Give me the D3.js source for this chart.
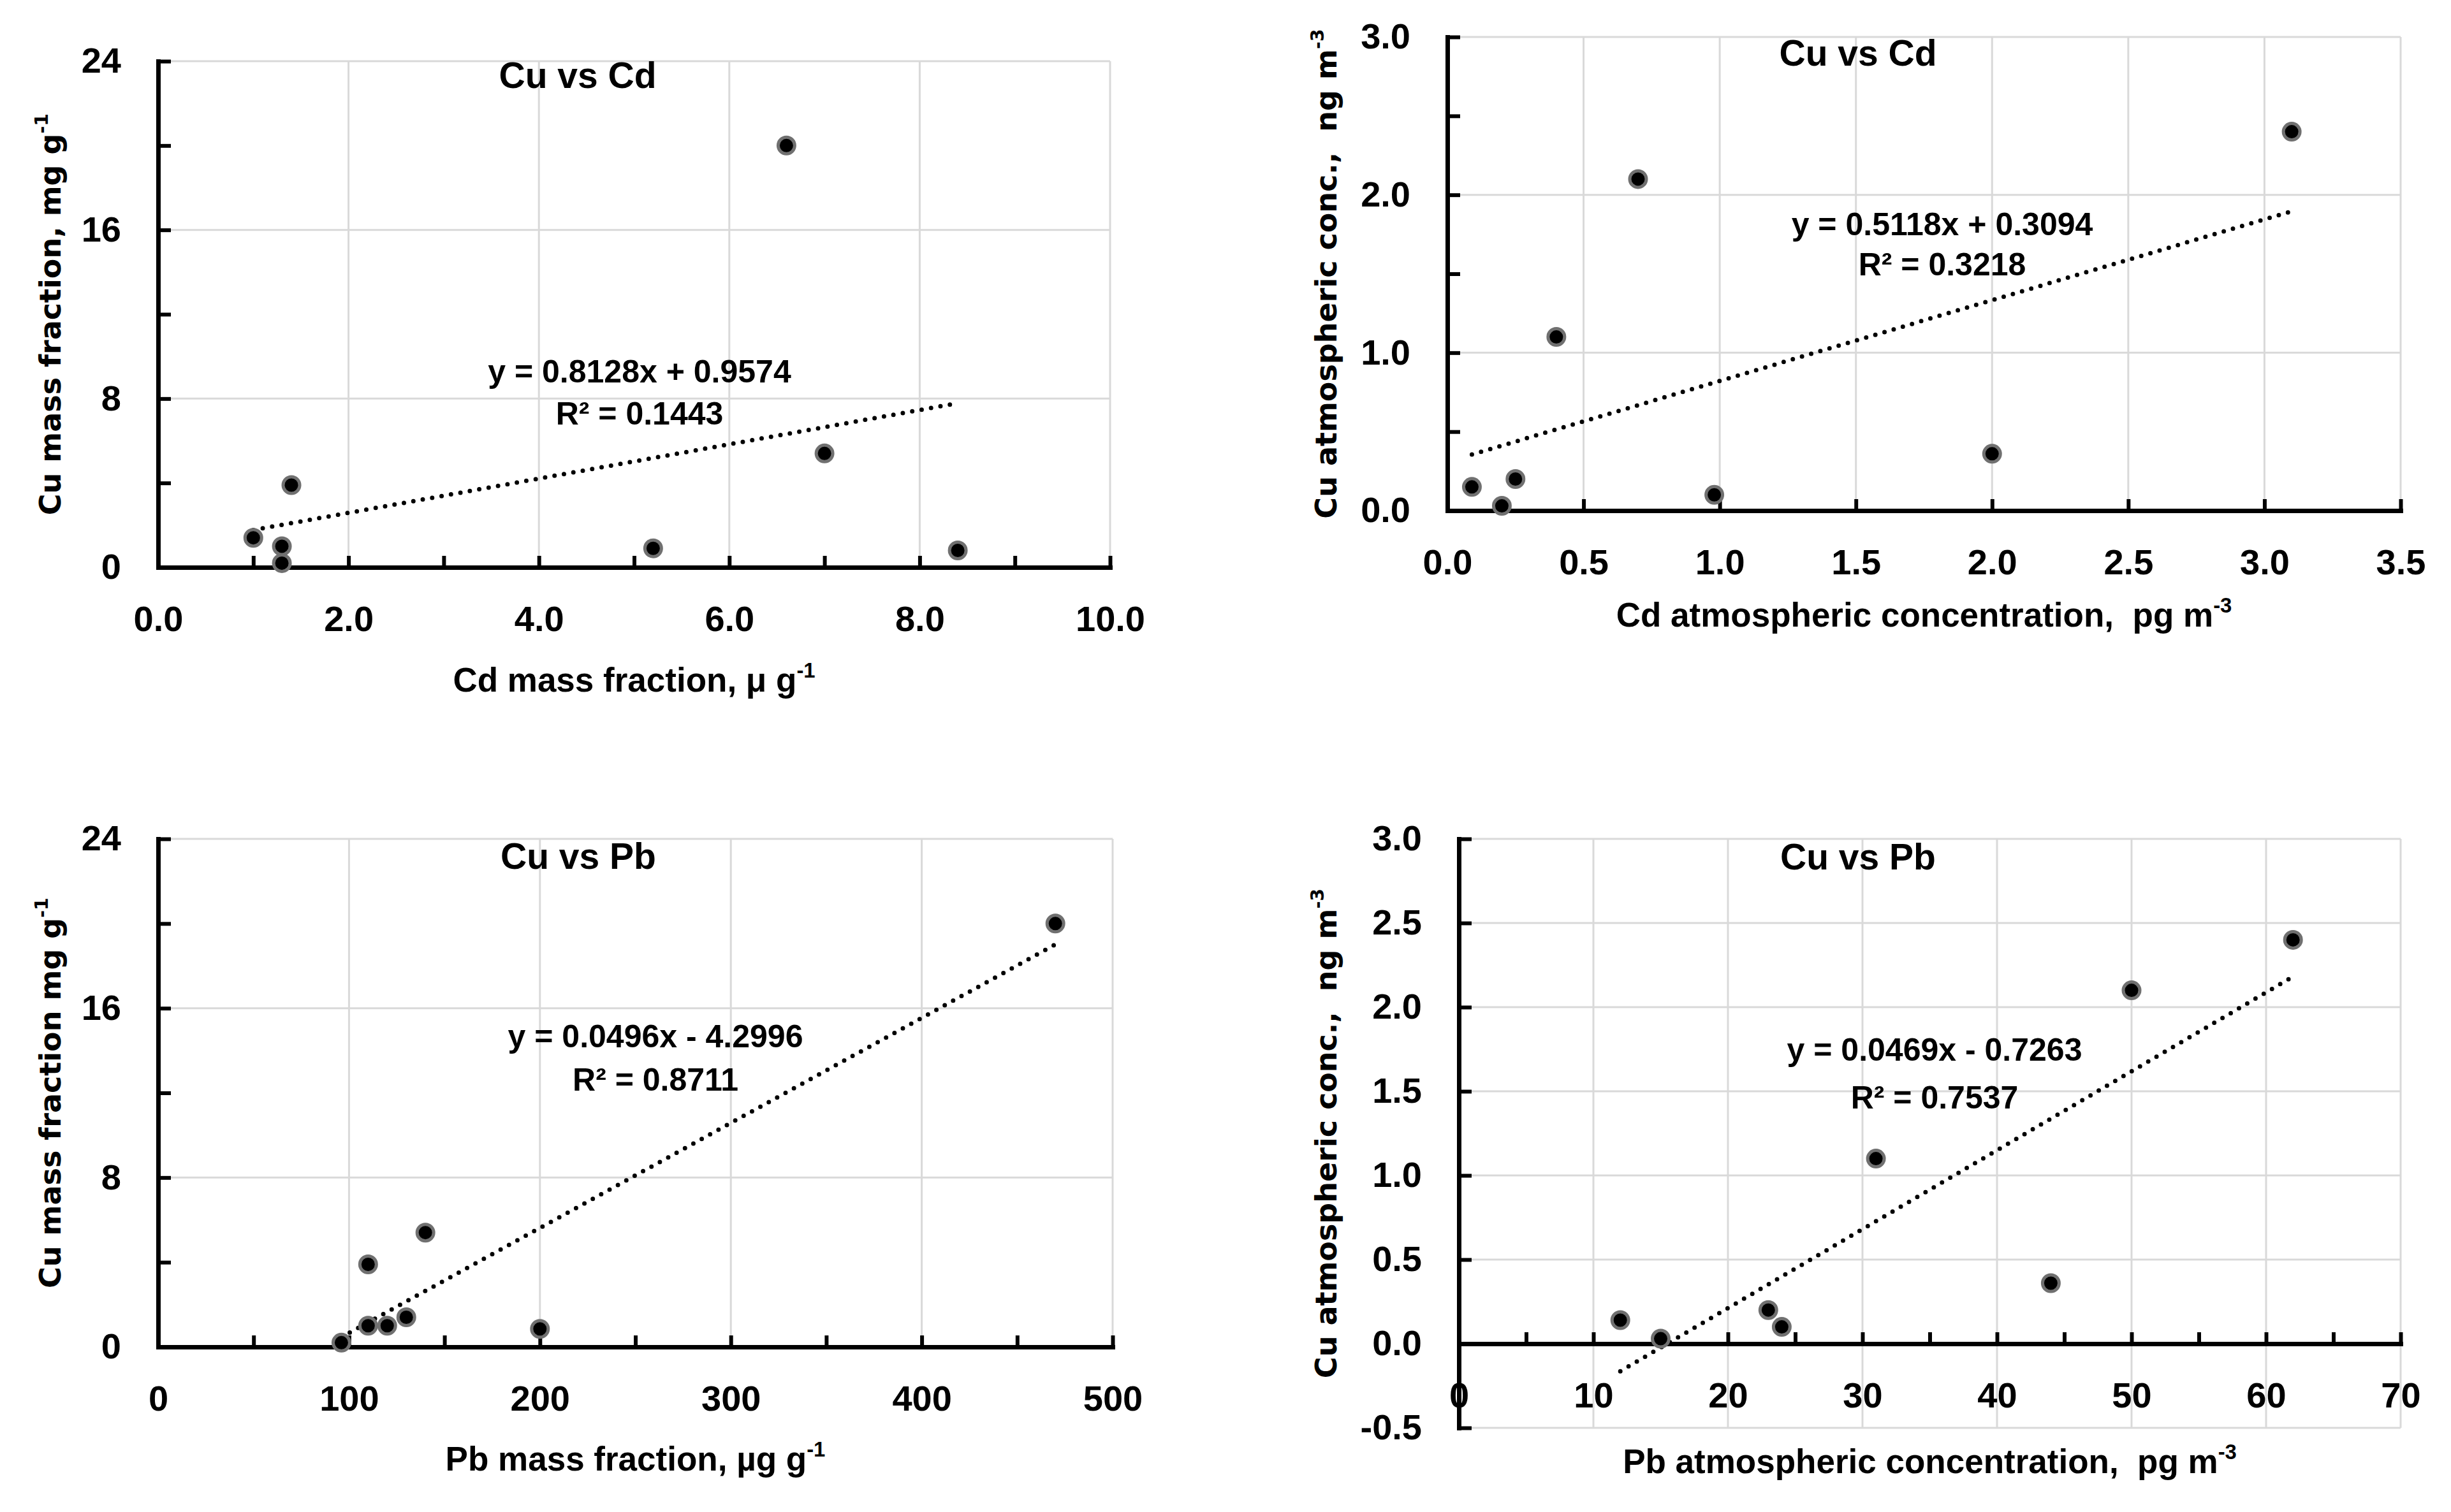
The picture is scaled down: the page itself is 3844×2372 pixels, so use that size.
<!DOCTYPE html>
<html>
<head>
<meta charset="utf-8">
<script src="https://cdn.jsdelivr.net/npm/d3@7"></script>
<style>
  body { margin: 0; background: #fff; }
  svg { display: block; }
</style>
</head>
<body>
<script>
/* DATA -------------------------------------------------------------------------------- */
// Cu vs Cd, mass fractions
const cdMassFraction = [1.0, 1.3, 1.3, 1.4, 5.2, 6.6, 7.0, 8.4]
const cuMassVsCd = [1.4, 1.0, 0.2, 3.9, 0.9, 20.0, 5.4, 0.8]
const trendCdMass = [0.8128, 0.9574] // slope, intercept
const eqCdMass = ["y = 0.8128x + 0.9574", "R² = 0.1443"]

// Cu vs Cd, atmospheric concentrations
const cdAtmConc = [0.09, 0.2, 0.25, 0.4, 0.7, 0.98, 2.0, 3.1]
const cuAtmVsCd = [0.15, 0.03, 0.2, 1.1, 2.1, 0.1, 0.36, 2.4]
const trendCdAtm = [0.5118, 0.3094]
const eqCdAtm = ["y = 0.5118x + 0.3094", "R² = 0.3218"]

// Cu vs Pb, mass fractions
const pbMassFraction = [96, 110, 110, 120, 130, 140, 200, 470]
const cuMassVsPb = [0.2, 1.0, 3.9, 1.0, 1.4, 5.4, 0.85, 20.0]
const trendPbMass = [0.0496, -4.2996]
const eqPbMass = ["y = 0.0496x - 4.2996", "R² = 0.8711"]

// Cu vs Pb, atmospheric concentrations
const pbAtmConc = [12, 15, 23, 24, 31, 44, 50, 62]
const cuAtmVsPb = [0.14, 0.03, 0.2, 0.1, 1.1, 0.36, 2.1, 2.4]
const trendPbAtm = [0.0469, -0.7263]
const eqPbAtm = ["y = 0.0469x - 0.7263", "R² = 0.7537"]

// tick labels
const xTicksCdMass = [0, 2, 4, 6, 8, 10]
const xTicksCdAtm = [0, 0.5, 1, 1.5, 2, 2.5, 3, 3.5]
const xTicksPbMass = [0, 100, 200, 300, 400, 500]
const xTicksPbAtm = [0, 10, 20, 30, 40, 50, 60, 70]
const yTicksMass = [0, 8, 16, 24]
const yTicksCdAtm = [0, 1, 2, 3]
const yTicksPbAtm = [-0.5, 0, 0.5, 1, 1.5, 2, 2.5, 3]

/* STYLES -------------------------------------------------------------------------------- */
const fontMain = "'Liberation Sans', Arial, sans-serif"
const fontYTitle = "'DejaVu Sans', Verdana, sans-serif"

// formats with a plain hyphen for negatives (like Excel)
const fmt1 = d => d3.format(".1f")(d).replace("−", "-")
const fmt0 = d => d3.format("d")(d).replace("−", "-")

const svg = d3.select("body")
    .append("svg")
    .attr("width", 3844)
    .attr("height", 2372)

svg.append("rect")
    .attr("width", 3844)
    .attr("height", 2372)
    .attr("fill", "#fff")

// panels (plot area in pixels)
const panels = [
    {
        left: 248, right: 1741, top: 96, bottom: 890,
        xDomain: [0, 10], yDomain: [0, 24], xAxisAt: 0,
        xs: cdMassFraction, ys: cuMassVsCd, trend: trendCdMass, eq: eqCdMass,
        xLabels: xTicksCdMass, xMinor: d3.range(0, 10.01, 1), xFmt: fmt1,
        yLabels: yTicksMass, yMinor: d3.range(0, 24.01, 4), yFmt: fmt0,
        title: "Cu vs Cd", titlePos: [658, 21], eqPos: [755, 486], eqGap: 66,
        xTitle: "Cd mass fraction, μ g^-1", xTitleY: 1066,
        yTitle: "Cu mass fraction, mg g^-1", yTitleX: 78
    },
    {
        left: 2270, right: 3765, top: 58, bottom: 801,
        xDomain: [0, 3.5], yDomain: [0, 3], xAxisAt: 0,
        xs: cdAtmConc, ys: cuAtmVsCd, trend: trendCdAtm, eq: eqCdAtm,
        xLabels: xTicksCdAtm, xMinor: d3.range(0, 3.51, 0.5), xFmt: fmt1,
        yLabels: yTicksCdAtm, yMinor: d3.range(0, 3.01, 0.5), yFmt: fmt1,
        title: "Cu vs Cd", titlePos: [644, 24], eqPos: [776, 293], eqGap: 63,
        xTitle: "Cd atmospheric concentration,  pg m^-3", xTitleY: 964,
        yTitle: "Cu atmospheric conc.,  ng m^-3", yTitleX: 2079
    },
    {
        left: 248, right: 1745, top: 1316, bottom: 2113,
        xDomain: [0, 500], yDomain: [0, 24], xAxisAt: 0,
        xs: pbMassFraction, ys: cuMassVsPb, trend: trendPbMass, eq: eqPbMass,
        xLabels: xTicksPbMass, xMinor: d3.range(0, 501, 50), xFmt: fmt0,
        yLabels: yTicksMass, yMinor: d3.range(0, 24.01, 4), yFmt: fmt0,
        title: "Cu vs Pb", titlePos: [659, 26], eqPos: [780, 309], eqGap: 68,
        xTitle: "Pb mass fraction, µg g^-1", xTitleY: 2288,
        yTitle: "Cu mass fraction mg g^-1", yTitleX: 78
    },
    {
        left: 2288, right: 3765, top: 1316, bottom: 2240,
        xDomain: [0, 70], yDomain: [-0.5, 3], xAxisAt: 0,
        xs: pbAtmConc, ys: cuAtmVsPb, trend: trendPbAtm, eq: eqPbAtm,
        xLabels: xTicksPbAtm, xMinor: d3.range(0, 70.01, 5), xFmt: fmt0,
        yLabels: yTicksPbAtm, yMinor: d3.range(-0.5, 3.01, 0.5), yFmt: fmt1,
        title: "Cu vs Pb", titlePos: [626, 27], eqPos: [746, 330], eqGap: 75,
        xTitle: "Pb atmospheric concentration,  pg m^-3", xTitleY: 2292,
        yTitle: "Cu atmospheric conc.,  ng m^-3", yTitleX: 2079
    }
]

panels.forEach(drawPanel)

/* FONCTIONS -------------------------------------------------------------------------------- */
// text with an optional superscript after "^"
function richText(sel, str, size) {
    const parts = str.split("^")
    sel.append("tspan").text(parts[0])
    if (parts[1]) {
        sel.append("tspan")
            .attr("dy", -size * 0.42)
            .attr("font-size", size * 0.62)
            .text(parts[1])
    }
}

function drawPanel(p) {
    const w = p.right - p.left
    const h = p.bottom - p.top
    const g = svg.append("g").attr("transform", `translate(${p.left},${p.top})`)

    const x = d3.scaleLinear().domain(p.xDomain).range([0, w])
    const y = d3.scaleLinear().domain(p.yDomain).range([h, 0])
    const axisY = y(p.xAxisAt)

    // gridlines
    g.append("g").selectAll("line")
        .data(p.xLabels.filter(d => d !== p.xDomain[0]))
        .join("line")
        .attr("x1", d => x(d)).attr("x2", d => x(d))
        .attr("y1", 0).attr("y2", h)
        .attr("stroke", "#d9d9d9").attr("stroke-width", 3)
    g.append("g").selectAll("line")
        .data(p.yLabels.filter(d => d !== p.xAxisAt))
        .join("line")
        .attr("x1", 0).attr("x2", w)
        .attr("y1", d => y(d)).attr("y2", d => y(d))
        .attr("stroke", "#d9d9d9").attr("stroke-width", 3)

    // tick labels
    g.append("g")
        .attr("transform", `translate(0,${axisY})`)
        .call(d3.axisBottom(x).tickValues(p.xLabels).tickFormat(p.xFmt).tickSize(0).tickPadding(60))
        .call(a => a.select(".domain").remove())
        .selectAll("text")
        .style("font", `bold 56px ${fontMain}`)
        .attr("fill", "#000")
    g.append("g")
        .call(d3.axisLeft(y).tickValues(p.yLabels).tickFormat(p.yFmt).tickSize(0).tickPadding(58))
        .call(a => a.select(".domain").remove())
        .selectAll("text")
        .style("font", `bold 56px ${fontMain}`)
        .attr("fill", "#000")

    // axes with inner ticks
    const xAxis = g.append("g")
        .attr("transform", `translate(0,${axisY})`)
        .call(d3.axisBottom(x).tickValues(p.xMinor).tickFormat("").tickSize(-18).tickSizeOuter(0))
    const yAxis = g.append("g")
        .call(d3.axisLeft(y).tickValues(p.yMinor).tickFormat("").tickSize(-20).tickSizeOuter(0))
    ;[xAxis, yAxis].forEach(a => {
        a.select(".domain").attr("stroke", "#000").attr("stroke-width", 7).attr("stroke-linecap", "square")
        a.selectAll(".tick line").attr("stroke", "#000").attr("stroke-width", 6)
    })

    // trendline (dotted)
    const x0 = d3.min(p.xs), x1 = d3.max(p.xs)
    g.append("path")
        .datum([x0, x1])
        .attr("d", d3.line().x(d => x(d)).y(d => y(p.trend[0] * d + p.trend[1])))
        .attr("fill", "none")
        .attr("stroke", "#000")
        .attr("stroke-width", 7)
        .attr("stroke-linecap", "round")
        .attr("stroke-dasharray", "0,15")

    // points
    g.append("g").selectAll("circle")
        .data(p.xs.map((d, i) => [d, p.ys[i]]))
        .join("circle")
        .attr("cx", d => x(d[0]))
        .attr("cy", d => y(d[1]))
        .attr("r", 13)
        .attr("fill", "#000")
        .attr("stroke", "#707070")
        .attr("stroke-width", 5)

    // title
    g.append("text")
        .attr("x", p.titlePos[0]).attr("y", p.titlePos[1])
        .attr("dy", "0.36em")
        .attr("text-anchor", "middle")
        .style("font", `bold 57px ${fontMain}`)
        .text(p.title)

    // equation and R²
    p.eq.forEach((t, i) => {
        g.append("text")
            .attr("x", p.eqPos[0]).attr("y", p.eqPos[1] + i * p.eqGap)
            .attr("dy", "0.36em")
            .attr("text-anchor", "middle")
            .style("font", `bold 50px ${fontMain}`)
            .text(t)
    })

    // axis titles
    svg.append("text")
        .attr("x", (p.left + p.right) / 2).attr("y", p.xTitleY)
        .attr("dy", "0.36em")
        .attr("text-anchor", "middle")
        .attr("xml:space", "preserve")
        .style("font", `bold 53px ${fontMain}`)
        .call(richText, p.xTitle, 53)
    svg.append("text")
        .attr("transform", `translate(${p.yTitleX},${(p.top + p.bottom) / 2}) rotate(-90)`)
        .attr("dy", "0.36em")
        .attr("text-anchor", "middle")
        .attr("xml:space", "preserve")
        .style("font", `bold 46px ${fontYTitle}`)
        .call(richText, p.yTitle, 46)
}
</script>
</body>
</html>
